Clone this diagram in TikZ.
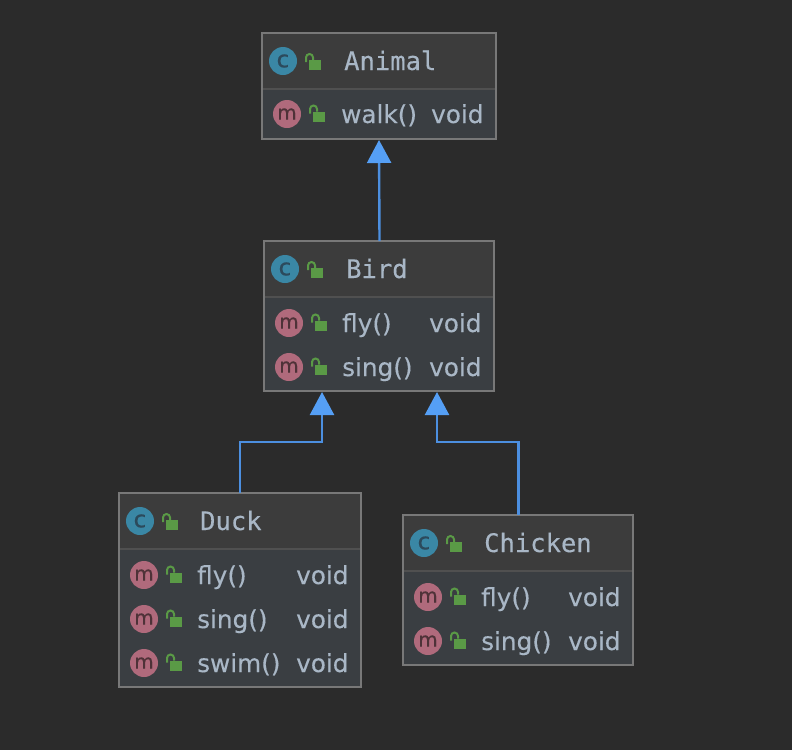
\documentclass[tikz,border=0pt]{standalone}
\usepackage{fontspec}
\setmainfont[FakeBold=0.25]{DejaVu Sans}
\newfontfamily\hdrfont[FakeBold=0.25]{DejaVu Sans Mono}
\newfontfamily\badgefont[FakeBold=0.6]{DejaVu Sans}
\usetikzlibrary{arrows.meta}
\definecolor{bgc}{HTML}{2B2B2B}
\definecolor{hdrc}{HTML}{3C3C3C}
\definecolor{bodyc}{HTML}{3A3E42}
\definecolor{edgec}{HTML}{787878}
\definecolor{divc}{HTML}{505050}
\definecolor{txtc}{HTML}{A9B7C6}
\definecolor{linkc}{HTML}{4C8FE0}
\definecolor{tipc}{HTML}{559FF5}
\definecolor{cbadge}{HTML}{3A87A5}
\definecolor{mbadge}{HTML}{B06A7C}
\definecolor{cink}{HTML}{2C4A5C}
\definecolor{mink}{HTML}{4E3238}
\definecolor{lockc}{HTML}{5A9A46}
\tikzset{
  x=1pt,y=-1pt,
  classbox/.style={draw=edgec,line width=2pt,fill=bodyc,inner sep=0pt,outer sep=0pt,anchor=north west},
  hdrtext/.style={text=txtc,font=\hdrfont\fontsize{25.5}{25.5}\selectfont,inner sep=0pt,anchor=base west},
  rowtext/.style={text=txtc,font=\fontsize{24.7}{24.7}\selectfont,inner sep=0pt,anchor=base west},
  badgec/.style={circle,fill=cbadge,minimum size=28pt,inner sep=0pt,text=cink,font=\badgefont\fontsize{23}{23}\selectfont},
  badgem/.style={circle,fill=mbadge,minimum size=28pt,inner sep=0pt,text=mink,font=\badgefont\fontsize{20}{20}\selectfont},
  link/.style={draw=linkc,line width=2.4pt,-{Triangle[length=23pt,width=24pt,fill=tipc,color=tipc]},shorten >=1pt},
}
% lock icon: #1 = x, #2 = y (badge centre)
\newcommand{\lockicon}[2]{%
  \fill[lockc] (#1+25.5,#2-1) rectangle (#1+38,#2+9);
  \draw[lockc,line width=2pt] (#1+23,#2+1) -- (#1+23,#2-3.5) arc[start angle=180,end angle=0,radius=3.5pt] -- (#1+30,#2-1);
}
% class box: name, x, y, w, h, title, title x
\newcommand{\classframe}[7]{%
  \node[classbox,minimum width=#4pt,minimum height=#5pt] (#1) at (#2,#3) {};
  \fill[hdrc] (#2+1,#3+1) rectangle (#2+#4-1,#3+55);
  \draw[divc,line width=2pt] (#2+1,#3+56) -- (#2+#4-1,#3+56);
  \node[badgec] (#1c) at (#2+21,#3+28) {\raisebox{-1pt}{c}};
  \lockicon{#2+21}{#3+28}
  \node[hdrtext] (#1t) at (#7,#3+37) {#6};
}
% row: name, box x, y centre, method, method x, void x
\newcommand{\classrow}[6]{%
  \node[badgem] (#1b) at (#2+25,#3) {\raisebox{-1pt}{m}};
  \lockicon{#2+25}{#3-1.5}
  \node[rowtext] (#1m) at (#5,#3+9) {#4};
  \node[rowtext] (#1v) at (#6,#3+9) {void};
}
\begin{document}
\begin{tikzpicture}
\useasboundingbox (0,0) rectangle (792,750);
\fill[bgc] (0,0) rectangle (792,750);

\classframe{animal}{262}{33}{234}{106}{Animal}{344}
\classrow{walk}{262}{114}{walk()}{341}{431}

\classframe{bird}{264}{241}{230}{150}{Bird}{346}
\classrow{bfly}{264}{323}{fly()}{342}{429}
\classrow{bsing}{264}{367}{sing()}{342}{429}

\classframe{duck}{119}{493}{242}{194}{Duck}{200}
\classrow{dfly}{119}{575}{fly()}{197}{296}
\classrow{dsing}{119}{619}{sing()}{197}{296}
\classrow{dswim}{119}{663}{swim()}{197}{296}

\classframe{chicken}{403}{515}{230}{150}{Chicken}{484}
\classrow{cfly}{403}{597}{fly()}{481}{568}
\classrow{csing}{403}{641}{sing()}{481}{568}

\coordinate (aIn) at ([xshift=117pt]animal.south west);
\coordinate (bOut) at ([xshift=115.5pt]bird.north west);
\coordinate (bInL) at ([xshift=58pt]bird.south west);
\coordinate (bInR) at ([xshift=173pt]bird.south west);
\coordinate (dOut) at ([xshift=121pt]duck.north west);
\coordinate (cOut) at ([xshift=115.5pt]chicken.north west);

\draw[link] (dOut) -- ([yshift=51pt]dOut) -| (bInL);
\draw[link] (cOut) -- ([yshift=73pt]cOut) -| (bInR);
\draw[link] (bOut) -- (aIn);
\end{tikzpicture}
\end{document}
